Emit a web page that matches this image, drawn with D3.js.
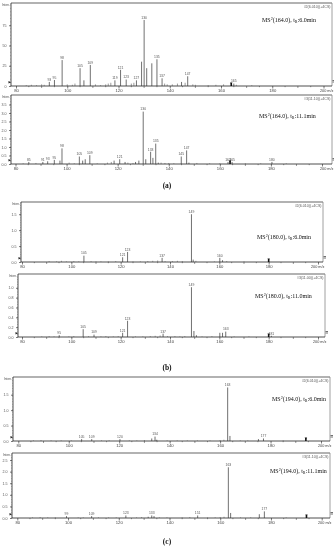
<!DOCTYPE html>
<html><head><meta charset="utf-8">
<script src="https://cdn.jsdelivr.net/npm/d3@7"></script>
<style>body{margin:0;background:#fff}svg{display:block;will-change:transform}</style>
</head><body><svg id="c" width="334" height="550"></svg>
<script>
// ---------- data ----------
const xTickValues = [80, 100, 120, 140, 160, 180, 200];
const xTickLabels = ["80", "100", "120", "140", "160", "180", "200 m/z"];

// peaks: [m/z, relative height %, label text ("" = unlabelled)]
const a1Peaks = [[93,5,"93"],[95,7.4,"95"],[98,32,"98"],[105,22,"105"],[106.5,7,""],[109,26,"109"],
  [118.6,7,"119"],[120.8,20,"121"],[123,8,"123"],[127,7,"127"],[129,30,""],[130,81.5,"130"],[131,22,""],
  [133,28,""],[135,33,"135"],[137,9.5,"137"],[144.6,5,""],[147,12,"147"],[165,3,"165"]];
const a1Noise = [[84,1],[86,1.5],[88,1],[90,2],[91,1.5],[100,2],[102,1.5],[103,3],[111,2],[113,1],[115,2],
  [116,3],[117,4],[125,3],[126,4],[138,3],[139,2],[141,2],[143,3],[146,4],[149,2],[150,1.5],[155,1],[158,1.5],[161,2],[166,1.5],[172,1]];

const a2Peaks = [[85.2,3,"85"],[90.7,3,"91"],[92.6,4,"93"],[95.2,6,"95"],[97.4,5,""],[98.2,23,"98"],[105,11,"105"],
  [106.3,5,""],[107.3,7,""],[109.1,13,"109"],[118.6,5,""],[120.8,7,"121"],[122.9,3,""],[127,3,""],[128.3,5,""],
  [130,77,"130"],[131,7,""],[132.9,18,"133"],[133.8,9,""],[134.9,30,"135"],[135.9,2,""],[144.9,11,"145"],
  [147,20,"147"],[147.9,2,""],[163.2,3,"163"],[164.8,3,"165"],[180.4,3,"180"]];
const a2Noise = [[83,1],[88,1.5],[101,2],[103,1],[112,1],[116,2],[117.5,3],[124,2],[126,1.5],[137,2],[138.5,1.5],
  [140,1.5],[142,1],[151,1.5],[156,1],[160,1],[170,1],[176,1],[186,1]];

const b1Peaks = [[105.1,10.7,"105"],[120.8,8,"121"],[122.8,17,"123"],[136.8,7,"137"],[148.7,81,"149"],
  [149.4,4,""],[160.2,7,"160"],[161.3,3,""]];
const b1Noise = [[91,1.5],[94,1],[96,2],[98,1],[101,1.5],[103,1],[108,1.5],[110,1],[112,1],[115,1],[118,1.5],
  [125,1],[128,1],[131,1.5],[133,2],[135,2.5],[138,1.5],[141,1.5],[143,2],[145,1.5],[150.5,2],[158,1],[163,1.5],[170,1]];

const b2Peaks = [[95.1,3,"95"],[104.8,13,"105"],[109.2,4,"109"],[120.8,7,"121"],[122.8,27,"123"],[137.2,5.5,"137"],
  [148.7,83,"149"],[149.7,10,""],[150.7,3,""],[160.2,7,""],[161.3,7,""],[162.6,9,"163"],[181.1,2,"181"]];
const b2Noise = [[88,1],[91,1.5],[93,1],[99,1],[101,1.5],[107,1.5],[112,1],[114,1.5],[117,1],[119,1.5],[126,1],
  [129,1],[132,1.5],[134,2],[136,2.5],[139,1.5],[142,1.5],[144,1],[146,1.5],[153,1],[157,1.5],[166,1],[172,1]];

const c1Peaks = [[105.1,3,"105"],[109.1,3,"109"],[120.3,3,"120"],[132.9,4,""],[134.2,7,"134"],[134.9,2,""],
  [163,85,"163"],[163.9,8,""],[175.2,3,""],[177.2,4,"177"]];
const c1Noise = [[86,1],[89,1.5],[93,1],[97,1],[101,1],[113,1],[116,1],[124,1],[127,1],[130,1.5],[139,1],[143,1],
  [147,1],[151,1],[156,1],[160,1.5],[161.5,2],[168,1],[171,1],[185,1]];

const c2Peaks = [[99.4,3,"99"],[109.3,3,"109"],[122.8,4,"123"],[131.6,2,""],[133,4,"133"],[133.9,3,""],
  [151.1,4,"151"],[163.2,80.5,"163"],[164.1,8,""],[175.4,6,""],[177.4,10.5,"177"]];
const c2Noise = [[86,1],[89,1.5],[92,1],[95,1],[104,1],[106,1],[112,1],[116,1],[119,1],[127,1],[129,1.5],
  [136,1],[139,1],[145,1],[148,1.5],[155,1],[158,1],[160,1.5],[161.5,2],[168,1],[172,1],[186,1]];

const precursors = [164.0, 164.0, 180.0, 180.0, 194.0, 194.0];
const titles = [["164.0","6.0"],["164.0","11.1"],["180.0","6.0"],["180.0","11.0"],["194.0","6.0"],["194.0","11.1"]];
const scanTags = ["#2(6.010)(+4CS)","#3(11.10)(+4CS)","#2(6.010)(+4CS)","#3(11.00)(+4CS)","#2(6.010)(+4CS)","#3(11.10)(+4CS)"];

const yTicksA1 = [0, 25, 50, 75], yTextA1 = ["0", "25", "50", "75"];
const yTicksA2 = [0, 12.5, 25, 37.5, 50, 62.5, 75, 87.5], yTextA2 = ["0.0","0.5","1.0","1.5","2.0","2.5","3.0","3.5"];
const yTicksB1 = [0, 27, 54, 81], yTextB1 = ["0.0","0.5","1.0","1.5"];
const yTicksB2 = [0, 16.4, 32.8, 49.2, 65.6, 82], yTextB2 = ["0.0","0.2","0.4","0.6","0.8","1.0"];
const yTicksC1 = [0, 24.5, 49, 73.5], yTextC1 = ["0.0","0.5","1.0","1.5"];
const yTicksC2 = [0, 18.4, 36.8, 55.2, 73.6, 92], yTextC2 = ["0.0","0.5","1.0","1.5","2.0","2.5"];

const panelLetters = ["(a)", "(b)", "(c)"];

// ---------- layout ----------
const layout = [
  {peaks:a1Peaks, noise:a1Noise, yt:yTicksA1, ytx:yTextA1, L:11, R:332, T:3, B:86, ref:5, x80:16, x200:323.5, tx:262, ty:22},
  {peaks:a2Peaks, noise:a2Noise, yt:yTicksA2, ytx:yTextA2, L:11, R:332, T:95, B:164, ref:96, x80:15.5, x200:322, tx:259, ty:118},
  {peaks:b1Peaks, noise:b1Noise, yt:yTicksB1, ytx:yTextB1, L:21, R:323, T:202, B:262, ref:203, x80:22, x200:318, tx:257, ty:239},
  {peaks:b2Peaks, noise:b2Noise, yt:yTicksB2, ytx:yTextB2, L:18, R:325, T:274, B:337, ref:277, x80:22, x200:318, tx:255, ty:298},
  {peaks:c1Peaks, noise:c1Noise, yt:yTicksC1, ytx:yTextC1, L:13, R:330, T:377, B:441, ref:378, x80:18.3, x200:321, tx:272, ty:401},
  {peaks:c2Peaks, noise:c2Noise, yt:yTicksC2, ytx:yTextC2, L:12, R:330, T:453, B:518, ref:455, x80:17.3, x200:321.7, tx:270, ty:473}
];
const letterY = [188, 370, 544];
const FONT = "Liberation Sans, Arial, sans-serif";

const svg = d3.select("#c");
svg.append("rect").attr("width",334).attr("height",550).attr("fill","#fff");

layout.forEach((p, i) => {
  const g = svg.append("g");
  const x = d3.scaleLinear().domain([80, 200]).range([p.x80, p.x200]);
  const y = d3.scaleLinear().domain([0, 100]).range([p.B, p.ref]);

  // frame top & right
  g.append("line").attr("x1",p.L).attr("x2",p.R).attr("y1",p.T).attr("y2",p.T).attr("stroke","#666").attr("stroke-width",1.2);
  g.append("line").attr("x1",p.R).attr("x2",p.R).attr("y1",p.T).attr("y2",p.B).attr("stroke","#888").attr("stroke-width",0.8);

  // x axis
  const xAxis = d3.axisBottom(x).tickValues(xTickValues).tickSize(2.5).tickFormat((d, k) => xTickLabels[k]);
  const gx = g.append("g").attr("transform", `translate(0,${p.B})`).call(xAxis);
  gx.select(".domain").remove();
  gx.selectAll("line").attr("stroke","#222").attr("stroke-width",0.6);
  gx.selectAll("text").attr("font-size",4.2).attr("font-family",FONT).attr("fill","#444").attr("dy","0.2em");
  gx.selectAll("text").filter((d,k)=>k===xTickLabels.length-1).attr("text-anchor","end").attr("x", Math.min(333, p.R + 1) - p.x200).attr("font-size",3.8);
  g.append("line").attr("x1",p.L).attr("x2",p.R).attr("y1",p.B).attr("y2",p.B).attr("stroke","#222").attr("stroke-width",0.8);
  const minor = d3.range(80, 201, 5).filter(v => v % 20 !== 0);
  g.selectAll(".mt").data(minor).enter().append("line")
    .attr("x1", d => x(d)).attr("x2", d => x(d)).attr("y1", p.B).attr("y2", d => p.B + (d % 10 === 0 ? 2 : 1.2))
    .attr("stroke","#333").attr("stroke-width",0.5);

  // y axis
  const yAxis = d3.axisLeft(y).tickValues(p.yt).tickSize(2).tickFormat((d, k) => p.ytx[k]);
  const gy = g.append("g").attr("transform", `translate(${p.L},0)`).call(yAxis);
  gy.select(".domain").remove();
  gy.selectAll("line").attr("stroke","#222").attr("stroke-width",0.6);
  gy.selectAll("text").attr("font-size",3.6).attr("font-family",FONT).attr("fill","#555").attr("dx",0.5);
  g.append("line").attr("x1",p.L).attr("x2",p.L).attr("y1",p.T).attr("y2",p.B).attr("stroke","#222").attr("stroke-width",0.8);
  const yMinor = d3.range(0, 101, 100 / 24);
  g.selectAll(".ym").data(yMinor).enter().append("line")
    .attr("x1", p.L - 0.9).attr("x2", p.L).attr("y1", d => y(d)).attr("y2", d => y(d))
    .attr("stroke","#555").attr("stroke-width",0.4);
  g.append("text").attr("x", p.L - 1).attr("y", p.T + 2.5).attr("text-anchor","end")
    .attr("font-size",3.3).attr("font-family",FONT).attr("fill","#555").text("Inten.");

  // baseline markers
  g.append("path").attr("d", `M${p.L-2.5},${p.B-5}l2.5,1.2l-2.5,1.2z`).attr("fill","#222");
  g.append("path").attr("d", `M${p.R+0.5},${p.B-5.5}h2.5M${p.R+0.5},${p.B-4}h2.5`).attr("stroke","#333").attr("stroke-width",0.7);

  // noise peaks
  g.selectAll(".n").data(p.noise).enter().append("line")
    .attr("x1", d => x(d[0])).attr("x2", d => x(d[0])).attr("y1", p.B).attr("y2", d => y(d[1]))
    .attr("stroke","#555").attr("stroke-width",0.6);
  // main peaks
  g.selectAll(".pk").data(p.peaks).enter().append("line")
    .attr("x1", d => x(d[0])).attr("x2", d => x(d[0])).attr("y1", p.B).attr("y2", d => y(d[1]))
    .attr("stroke","#333").attr("stroke-width",0.7);
  g.selectAll(".pl").data(p.peaks.filter(d => d[2] !== "")).enter().append("text")
    .attr("x", d => x(d[0])).attr("y", d => y(d[1]) - 1.2).attr("text-anchor","middle")
    .attr("font-size",3.4).attr("font-family",FONT).attr("fill","#555").text(d => d[2]);

  // precursor marker
  const px = x(precursors[i]);
  g.append("rect").attr("x", px - 0.8).attr("y", p.B - 3).attr("width", 1.6).attr("height", 3).attr("fill","#111");
  g.append("path").attr("d", `M${px-1.3},${p.B-3.5}h2.6l-1.3,1.5z`).attr("fill","#111");

  // scan tag
  g.append("text").attr("x", p.R - 1.5).attr("y", p.T + 4.5).attr("text-anchor","end")
    .attr("font-size",3.6).attr("font-family",FONT).attr("fill","#555").text(scanTags[i]);

  // title
  const t = g.append("text").attr("x", p.tx).attr("y", p.ty)
    .attr("font-size",6).attr("font-family","Liberation Serif, Times New Roman, serif").attr("fill","#111");
  t.append("tspan").text("MS");
  t.append("tspan").attr("font-size",4).attr("dy",-2.2).text("2");
  t.append("tspan").attr("dy",2.2).text(`(${titles[i][0]}), t`);
  t.append("tspan").attr("font-size",4).attr("dy",1.3).text("R");
  t.append("tspan").attr("dy",-1.3).text(`:${titles[i][1]}min`);
});

svg.selectAll(".letter").data(panelLetters).enter().append("text")
  .attr("x", 167).attr("y", (d, i) => letterY[i]).attr("text-anchor","middle")
  .attr("font-size",7.5).attr("font-weight","bold").attr("font-family","Liberation Serif, Times New Roman, serif")
  .attr("fill","#111").text(d => d);
</script></body></html>
